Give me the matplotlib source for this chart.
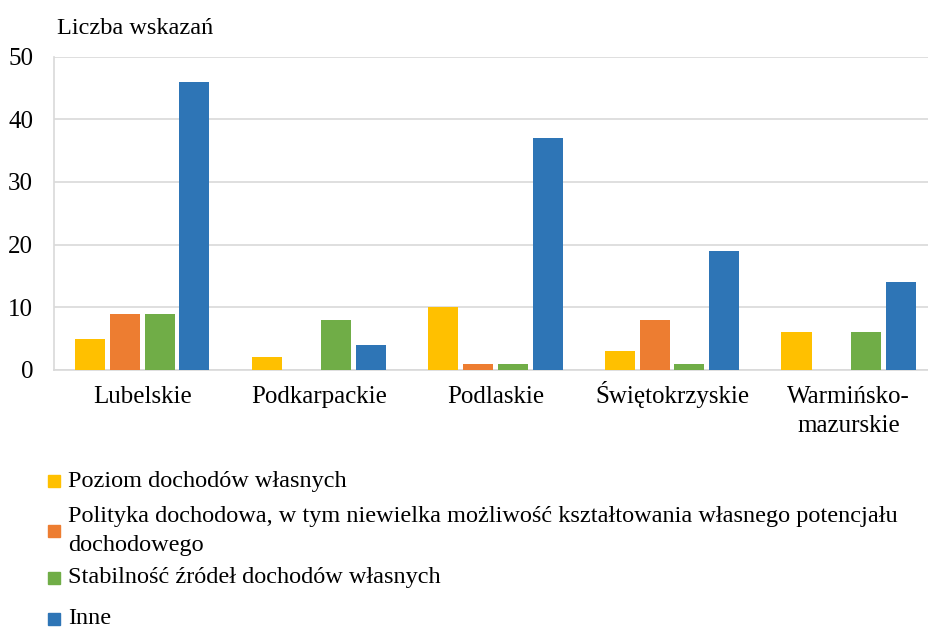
import matplotlib.pyplot as plt
from matplotlib.patches import Rectangle
import numpy as np

plt.rcParams["font.family"] = ["Liberation Serif", "DejaVu Serif"]

categories = ["Lubelskie", "Podkarpackie", "Podlaskie", "Świętokrzyskie",
              "Warmińsko-\nmazurskie"]
series_names = [
    "Poziom dochodów własnych",
    "Polityka dochodowa, w tym niewielka możliwość kształtowania własnego potencjału\ndochodowego",
    "Stabilność źródeł dochodów własnych",
    "Inne",
]
poziom = [5, 2, 10, 3, 6]
polityka = [9, 0, 1, 8, 0]
stabilnosc = [9, 8, 1, 1, 6]
inne = [46, 4, 37, 19, 14]
colors = ["#FFC000", "#ED7D31", "#70AD47", "#2E75B6"]

fig = plt.figure(figsize=(9.29, 6.29), dpi=100)
# plot area runs a bit past the right edge (cropped like the original)
ax = fig.add_axes([0.0581, 0.4118, 0.9505, 0.4981])

x = np.arange(len(categories))
width = 0.17
step = 0.197
for i, vals in enumerate([poziom, polityka, stabilnosc, inne]):
    ax.bar(x + (i - 1.5) * step, vals, width, color=colors[i], zorder=3)

ax.set_xlim(-0.5, len(categories) - 0.5)
ax.set_ylim(0, 50)
ax.set_yticks(range(0, 51, 10))
ax.set_xticks(x)
ax.set_xticklabels([])
ax.tick_params(axis="y", labelsize=18, length=0, pad=15)
ax.tick_params(axis="x", length=0)
ax.grid(axis="y", color="#D9D9D9", linewidth=1.2, zorder=0)
for s in ["top", "right"]:
    ax.spines[s].set_visible(False)
for s in ["bottom", "left"]:
    ax.spines[s].set_color("#D9D9D9")
    ax.spines[s].set_linewidth(1.2)

# category labels: first line baseline ~33 px under the axis, 29 px per line
for xi, cat in zip(x, categories):
    for k, line in enumerate(cat.split("\n")):
        ax.annotate(line, xy=(xi, 0), xycoords=("data", "axes fraction"),
                    xytext=(0, -(33 + 29 * k) * 0.72), textcoords="offset points",
                    ha="center", va="baseline", fontsize=18, annotation_clip=False)

fig.text(57 / 929, 1 - 28 / 629, "Liczba wskazań", fontsize=17.5,
         ha="left", va="center")

# legend, placed by hand like the original
legend_y = [481, 531, 578, 619]
for name, col, yc in zip(series_names, colors, legend_y):
    fig.patches.append(Rectangle((48 / 929, 1 - (yc + 6) / 629), 12 / 929, 12 / 629,
                                 transform=fig.transFigure, color=col))
    fig.text(68 / 929, 1 - yc / 629, name, fontsize=17.5, ha="left",
             va="center", linespacing=1.5)

fig.savefig("out.png", dpi=100)
